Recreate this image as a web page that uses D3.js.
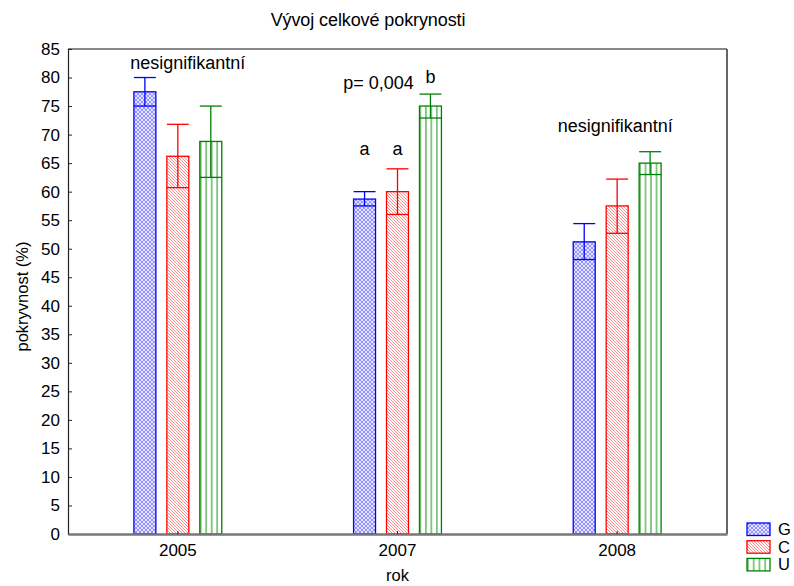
<!DOCTYPE html>
<html>
<head>
<meta charset="utf-8">
<script src="https://cdn.jsdelivr.net/npm/d3@7"></script>
<style>
  body { margin: 0; background: #fff; }
  text { font-family: "Liberation Sans", Arial, sans-serif; fill: #000; }
</style>
</head>
<body>
<svg id="chart" width="794" height="586"></svg>
<script>
// Years on the x axis and the three treatment groups
const years = ["2005", "2007", "2008"];
const groups = ["G", "C", "U"];

// Mean cover (%) per group, one value per year
const meanG = [77.5, 58.7, 51.2];
const meanC = [66.2, 60.0, 57.5];
const meanU = [68.8, 75.0, 65.0];

// Lower / upper whisker limits
const lowG = [75.0, 57.5, 48.1];
const highG = [80.0, 60.0, 54.4];
const lowC = [60.7, 56.0, 52.7];
const highC = [71.8, 64.0, 62.2];
const lowU = [62.5, 72.9, 63.0];
const highU = [75.0, 77.1, 67.0];

const yTicks = d3.range(0, 86, 5);

const colors = { G: "#0000ff", C: "#ff0000", U: "#008000" };

const rows = [];
years.forEach((yr, i) => {
  rows.push({ year: yr, group: "G", mean: meanG[i], lo: lowG[i], hi: highG[i] });
  rows.push({ year: yr, group: "C", mean: meanC[i], lo: lowC[i], hi: highC[i] });
  rows.push({ year: yr, group: "U", mean: meanU[i], lo: lowU[i], hi: highU[i] });
});

const svg = d3.select("#chart");
const plot = { left: 68, right: 727, top: 49, bottom: 534 };

const x = d3.scaleBand().domain(years).range([plot.left, plot.right]);
const y = d3.scaleLinear().domain([0, 85]).range([plot.bottom, plot.top]);
const barW = x.bandwidth() * 0.1;
const offset = d3.scaleOrdinal().domain(groups).range([-1.5, 0, 1.5]);
const barX = d => x(d.year) + x.bandwidth() / 2 + offset(d.group) * barW - barW / 2;

// Hatch fills
const defs = svg.append("defs");
const pG = defs.append("pattern").attr("id", "hatchG")
  .attr("patternUnits", "userSpaceOnUse").attr("width", 4).attr("height", 4);
pG.append("rect").attr("width", 4).attr("height", 4).attr("fill", "#e4e4ff");
pG.append("path").attr("d", "M0,0 L4,4 M4,0 L0,4 M-1,3 L1,5 M3,-1 L5,1")
  .attr("stroke", "#5c5cff").attr("stroke-width", 0.6).attr("fill", "none");

const pC = defs.append("pattern").attr("id", "hatchC")
  .attr("patternUnits", "userSpaceOnUse").attr("width", 3).attr("height", 3);
pC.append("rect").attr("width", 3).attr("height", 3).attr("fill", "#fff");
pC.append("path").attr("d", "M0,0 L3,3 M-1,2 L1,4 M2,-1 L4,1")
  .attr("stroke", "#ff7070").attr("stroke-width", 0.8).attr("fill", "none");

const pU = defs.append("pattern").attr("id", "hatchU")
  .attr("patternUnits", "objectBoundingBox").attr("width", 0.25).attr("height", 1);
pU.append("rect").attr("width", 40).attr("height", 600).attr("fill", "#fff");
pU.append("rect").attr("x", 0).attr("width", 1.8).attr("height", 600).attr("fill", "#7cc47c");

// Frame
svg.append("line").attr("x1", plot.left).attr("x2", plot.right).attr("y1", plot.top).attr("y2", plot.top)
  .attr("stroke", "#111").attr("stroke-width", 1.2);
svg.append("line").attr("x1", plot.right).attr("x2", plot.right).attr("y1", plot.top).attr("y2", plot.bottom)
  .attr("stroke", "#555").attr("stroke-width", 1.8);

// Bars
const bars = svg.append("g");
bars.selectAll("rect").data(rows).join("rect")
  .attr("x", d => barX(d))
  .attr("width", barW)
  .attr("y", d => y(d.mean))
  .attr("height", d => y(0) - y(d.mean))
  .attr("fill", d => `url(#hatch${d.group})`)
  .attr("stroke", d => colors[d.group])
  .attr("stroke-width", 1.3);

// Whiskers: vertical line, lower bar across the column, upper cap
const err = svg.append("g").attr("fill", "none").attr("stroke-width", 1.3);
rows.forEach(d => {
  const cx = barX(d) + barW / 2;
  const c = colors[d.group];
  err.append("line").attr("x1", cx).attr("x2", cx).attr("y1", y(d.lo)).attr("y2", y(d.hi)).attr("stroke", c);
  err.append("line").attr("x1", barX(d)).attr("x2", barX(d) + barW).attr("y1", y(d.lo)).attr("y2", y(d.lo)).attr("stroke", c);
  err.append("line").attr("x1", barX(d)).attr("x2", barX(d) + barW).attr("y1", y(d.hi)).attr("y2", y(d.hi)).attr("stroke", c);
});

// Y axis
const yAxis = svg.append("g").attr("transform", `translate(${plot.left},0)`)
  .call(d3.axisLeft(y).tickValues(yTicks).tickSize(-4).tickPadding(8));
yAxis.select(".domain").attr("stroke", "#222").attr("stroke-width", 1.2);
yAxis.selectAll(".tick line").attr("stroke", "#222");
yAxis.selectAll("text").style("font-size", "17px").attr("fill", "#000");

// X axis
const xAxis = svg.append("g").attr("transform", `translate(0,${plot.bottom})`)
  .call(d3.axisBottom(x).tickSize(-3).tickPadding(10).tickSizeOuter(0));
xAxis.select(".domain").attr("stroke", "#777").attr("stroke-width", 2.4);
xAxis.selectAll(".tick line").attr("stroke", "#222");
xAxis.selectAll("text").style("font-size", "17px").attr("fill", "#000");

// Title and axis titles
svg.append("text").attr("x", 368).attr("y", 26).attr("text-anchor", "middle")
  .style("font-size", "18px").style("letter-spacing", "-0.1px").text("Vývoj celkové pokrynosti");
svg.append("text").attr("x", x("2007") + x.bandwidth() / 2).attr("y", 581).attr("text-anchor", "middle")
  .style("font-size", "16.5px").text("rok");
svg.append("text").attr("transform", `translate(28,${(plot.top + plot.bottom) / 2 + 5}) rotate(-90)`)
  .attr("text-anchor", "middle").style("font-size", "16.5px").text("pokryvnost (%)");

// Significance annotations
const center = yr => x(yr) + x.bandwidth() / 2;
const ann = svg.append("g").style("font-size", "18px");
ann.append("text").attr("x", center("2005") + 10).attr("y", y(81.5)).attr("text-anchor", "middle").text("nesignifikantní");
ann.append("text").attr("x", center("2008") - 2).attr("y", y(70.5)).attr("text-anchor", "middle").text("nesignifikantní");
ann.append("text").attr("x", center("2007") - 19).attr("y", y(78.0)).attr("text-anchor", "middle").text("p= 0,004");
const letter = (d, t) => ann.append("text").attr("x", barX(d) + barW / 2).attr("y", y(66.5)).attr("text-anchor", "middle").text(t);
letter(rows[3], "a");
letter(rows[4], "a");
ann.append("text").attr("x", barX(rows[5]) + barW / 2).attr("y", y(79.1)).attr("text-anchor", "middle").text("b");

// Legend
const legend = svg.append("g");
groups.forEach((g, i) => {
  const ly = 523 + i * 17.7;
  legend.append("rect").attr("x", 747).attr("y", ly).attr("width", 23).attr("height", 12.5)
    .attr("fill", `url(#hatch${g})`).attr("stroke", colors[g]).attr("stroke-width", 1.3);
  legend.append("text").attr("x", 778).attr("y", ly + 12).style("font-size", "16.5px").text(g);
});
</script>
</body>
</html>
